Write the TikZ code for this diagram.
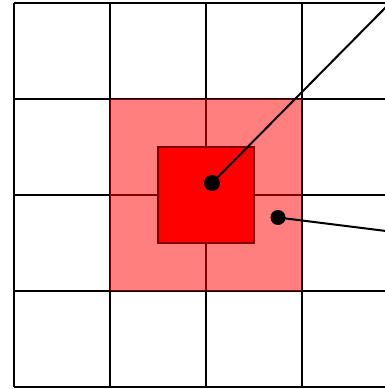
\documentclass[tikz,border=0pt]{standalone}
\begin{document}
\begin{tikzpicture}[x=1pt,y=-1pt,
  gridline/.style={line width=2pt,black},
  dotmark/.style={fill=black},
  pointer/.style={line width=2pt,black}]
\useasboundingbox (0,0) rectangle (385,389);
\clip (0,0) rectangle (385,389);
% grid
\foreach \x in {14,110,206,302,398} \draw[gridline] (\x,3) -- (\x,387);
\foreach \y in {3,99,195,291,387} \draw[gridline] (14,\y) -- (400,\y);
% red square
\draw[fill=red,line width=2pt,draw=black] (158,147) rectangle (254,243);
% translucent overlay
\fill[red,opacity=0.5] (110,99) rectangle (302,291);
% points and pointers
\coordinate (p1) at (212,183);
\coordinate (p2) at (278,217.5);
\coordinate (e1) at (390,3);
\coordinate (e2) at (390,231.5);
\draw[pointer] (p1) -- (e1);
\draw[pointer] (p2) -- (e2);
\fill[dotmark] (p1) circle (8);
\fill[dotmark] (p2) circle (7.5);
\end{tikzpicture}
\end{document}
